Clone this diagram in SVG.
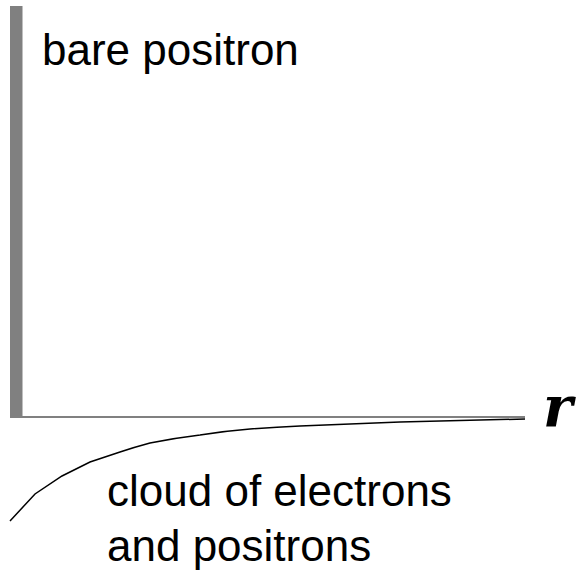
<svg xmlns="http://www.w3.org/2000/svg" width="579" height="571" viewBox="0 0 579 571">
<style>
.t{font-family:"Liberation Sans",Arial,sans-serif;font-size:44px;fill:#000}
</style>
<rect width="579" height="571" fill="#fff"/>
<g id="bar"><rect x="10" y="6" width="12.5" height="412" fill="#808080"/></g>
<g id="connectors">
<line x1="10" y1="417" x2="525" y2="417" stroke="#808080" stroke-width="2"/>
<path d="M10,521 L35,494 L62,476 L90,462 Q105,457 120,452 Q135,447 150,443 Q175,438 200,435 Q225,431 250,429 Q275,427 300,426 Q350,424 400,422 L525,419" fill="none" stroke="#000" stroke-width="1.5"/>
</g>
<g id="labels">
<text class="t" x="42" y="65">bare positron</text>
<text class="t" x="107" y="506">cloud of electrons</text>
<text class="t" x="107" y="561">and positrons</text>
<text x="543" y="426" font-family="'DejaVu Serif',serif" font-style="italic" font-weight="bold" font-size="56">r</text>
</g>
</svg>
